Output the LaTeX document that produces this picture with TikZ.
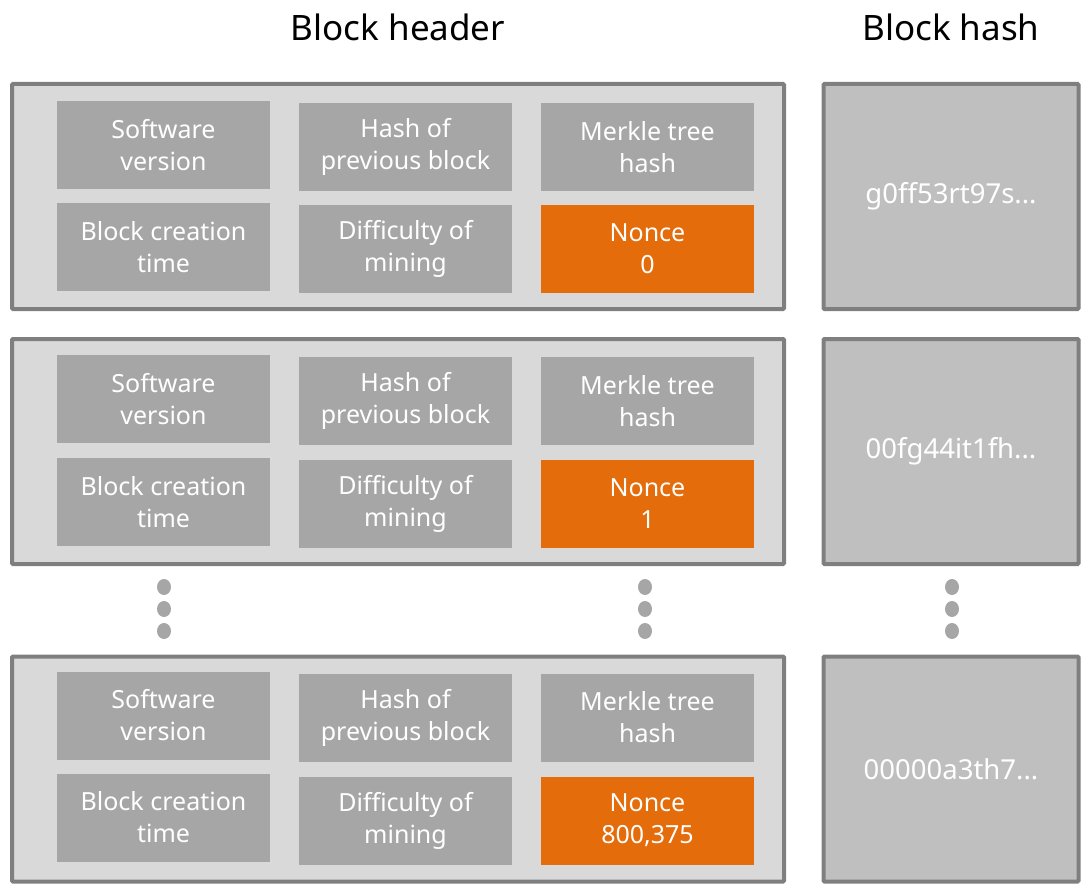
\documentclass[tikz,border=0pt]{standalone}
\usepackage{fontspec}
\setmainfont{Noto Sans}
\usepackage{tikz}

\definecolor{framegray}{HTML}{7F7F7F}
\definecolor{headfill}{HTML}{D9D9D9}
\definecolor{cellgray}{HTML}{A6A6A6}
\definecolor{hashfill}{HTML}{BFBFBF}
\definecolor{nonceorange}{HTML}{E46C0A}

\tikzset{
    header/.style={draw=framegray, fill=headfill, line width=4pt, rounded corners=1pt,
        minimum width=772pt, minimum height=225pt, inner sep=0pt},
    hashbox/.style={draw=framegray, fill=hashfill, line width=4pt, rounded corners=1pt,
        minimum width=255pt, minimum height=225pt, inner sep=0pt, text=white,
        font=\fontsize{27.5}{32}\selectfont},
    cell/.style={fill=cellgray, text=white, minimum width=213pt, minimum height=88pt,
        inner sep=0pt, align=center, font=\fontsize{25}{32}\selectfont},
    nonce/.style={cell, fill=nonceorange},
    title/.style={font=\fontsize{35}{40}\selectfont}
}

\begin{document}
\begin{tikzpicture}[x=1pt, y=-1pt]
        \useasboundingbox (0, 0) rectangle (1081, 888);

        \node[title] (headtitle) at (398, 27) {Block header};
        \node[title] (hashtitle) at (951, 27) {Block hash};

        % first try
        \node[header] (header1) at (398, 196.5) {};
        \node[cell] (sw1) at (163.5, 145) {Software\\version};
        \node[cell] (prev1) at (405.5, 147) {Hash of\\previous block};
        \node[cell] (merkle1) at (647.5, 147) {Merkle tree\\hash};
        \node[cell] (time1) at (163.5, 247) {Block creation\\time};
        \node[cell] (diff1) at (405.5, 249) {Difficulty of\\mining};
        \node[nonce] (nonce1) at (647.5, 249) {Nonce\\0};
        \node[hashbox] (hash1) at (951, 196.5) {g0ff53rt97s...};

        % second try
        \node[header] (header2) at (398, 451.5) {};
        \node[cell] (sw2) at (163.5, 399) {Software\\version};
        \node[cell] (prev2) at (405.5, 401) {Hash of\\previous block};
        \node[cell] (merkle2) at (647.5, 401) {Merkle tree\\hash};
        \node[cell] (time2) at (163.5, 502) {Block creation\\time};
        \node[cell] (diff2) at (405.5, 504) {Difficulty of\\mining};
        \node[nonce] (nonce2) at (647.5, 504) {Nonce\\1};
        \node[hashbox] (hash2) at (951, 451.5) {00fg44it1fh...};

        % skipped tries
        \fill[cellgray] (164, 587) ellipse (7 and 8);
        \fill[cellgray] (164, 609) ellipse (7 and 8);
        \fill[cellgray] (164, 631) ellipse (7 and 8);
        \fill[cellgray] (645, 587) ellipse (7 and 8);
        \fill[cellgray] (645, 609) ellipse (7 and 8);
        \fill[cellgray] (645, 631) ellipse (7 and 8);
        \fill[cellgray] (952, 587) ellipse (7 and 8);
        \fill[cellgray] (952, 609) ellipse (7 and 8);
        \fill[cellgray] (952, 631) ellipse (7 and 8);

        % found
        \node[header] (header3) at (398, 769) {};
        \node[cell] (sw3) at (163.5, 715.5) {Software\\version};
        \node[cell] (prev3) at (405.5, 717.5) {Hash of\\previous block};
        \node[cell] (merkle3) at (647.5, 717.5) {Merkle tree\\hash};
        \node[cell] (time3) at (163.5, 817.5) {Block creation\\time};
        \node[cell] (diff3) at (405.5, 820.5) {Difficulty of\\mining};
        \node[nonce] (nonce3) at (647.5, 820.5) {Nonce\\800,375};
        \node[hashbox] (hash3) at (951, 769) {00000a3th7...};

    \end{tikzpicture}
\end{document}
